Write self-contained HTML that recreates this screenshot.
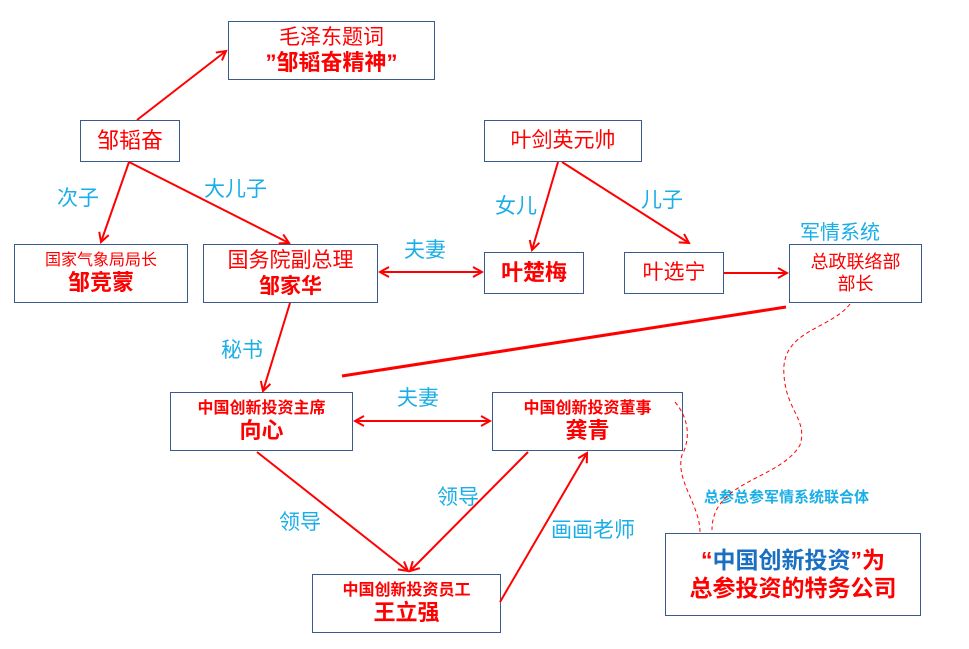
<!DOCTYPE html>
<html><head><meta charset="utf-8"><style>
body{margin:0;width:969px;height:649px;background:#fff;position:relative;overflow:hidden;font-family:"Liberation Sans","Noto Sans CJK SC",sans-serif}
.b{position:absolute;border:1.5px solid #3a5a8c;box-sizing:border-box;background:#fff;color:#f00;text-align:center;display:flex;flex-direction:column;justify-content:center;line-height:1.2}
.l{position:absolute;color:#1aaee8;font-size:21px;white-space:nowrap}
svg{position:absolute;left:0;top:0}
</style></head><body>
<div class="b" style="left:228px;top:21px;width:207px;height:59px"><div style="font-size:21px">毛泽东题词</div><div style="font-size:22px;font-weight:bold">”邹韬奋精神”</div></div>
<div class="b" style="left:80px;top:120px;width:100px;height:42px;font-size:22px">邹韬奋</div>
<div class="b" style="left:14px;top:244px;width:174px;height:59px"><div style="font-size:16px">国家气象局局长</div><div style="font-size:22px;font-weight:bold">邹竞蒙</div></div>
<div class="b" style="left:203px;top:244px;width:175px;height:59px"><div style="font-size:21px">国务院副总理</div><div style="font-size:21px;font-weight:bold">邹家华</div></div>
<div class="b" style="left:484px;top:120px;width:158px;height:42px;font-size:21px">叶剑英元帅</div>
<div class="b" style="left:484px;top:252px;width:100px;height:42px;font-size:22px;font-weight:bold">叶楚梅</div>
<div class="b" style="left:624px;top:252px;width:100px;height:42px;font-size:21px">叶选宁</div>
<div class="b" style="left:789px;top:244px;width:133px;height:59px;font-size:18px"><div>总政联络部</div><div>部长</div></div>
<div class="b" style="left:170px;top:392px;width:183px;height:59px"><div style="font-size:16px;font-weight:bold">中国创新投资主席</div><div style="font-size:22px;font-weight:bold">向心</div></div>
<div class="b" style="left:492px;top:392px;width:191px;height:59px"><div style="font-size:16px;font-weight:bold">中国创新投资董事</div><div style="font-size:22px;font-weight:bold">龚青</div></div>
<div class="b" style="left:312px;top:574px;width:189px;height:59px"><div style="font-size:16px;font-weight:bold">中国创新投资员工</div><div style="font-size:22px;font-weight:bold">王立强</div></div>
<div class="b" style="left:665px;top:533px;width:256px;height:83px;font-size:23px;font-weight:bold"><div><span style="color:#f00">“</span><span style="color:#1a6fc0">中国创新投资</span>”为</div><div>总参投资的特务公司</div></div>
<div class="l" style="left:57px;top:182px">次子</div>
<div class="l" style="left:204px;top:173px">大儿子</div>
<div class="l" style="left:404px;top:234px">夫妻</div>
<div class="l" style="left:495px;top:190px">女儿</div>
<div class="l" style="left:641px;top:184px">儿子</div>
<div class="l" style="left:800px;top:216px;font-size:20px">军情系统</div>
<div class="l" style="left:221px;top:334px">秘书</div>
<div class="l" style="left:397px;top:382px">夫妻</div>
<div class="l" style="left:279px;top:506px">领导</div>
<div class="l" style="left:437px;top:481px">领导</div>
<div class="l" style="left:551px;top:514px">画画老师</div>
<div class="l" style="left:704px;top:486px;font-size:15px;font-weight:bold">总参总参军情系统联合体</div>
<svg width="969" height="649">
<defs><marker id="a" markerWidth="12" markerHeight="12" refX="10" refY="6" orient="auto" markerUnits="userSpaceOnUse"><path d="M1,1 L10,6 L1,11" fill="none" stroke="#f00" stroke-width="2"/></marker></defs>
<g stroke="#f00" stroke-width="2" fill="none">
<line x1="137" y1="120" x2="226" y2="51" marker-end="url(#a)"/>
<line x1="129" y1="162" x2="101" y2="242" marker-end="url(#a)"/>
<line x1="129" y1="162" x2="289" y2="243" marker-end="url(#a)"/>
<line x1="380" y1="272" x2="482" y2="272" marker-end="url(#a)"/>
<line x1="482" y1="272" x2="380" y2="272" marker-end="url(#a)"/>
<line x1="558" y1="162" x2="532" y2="250" marker-end="url(#a)"/>
<line x1="562" y1="162" x2="689" y2="243" marker-end="url(#a)"/>
<line x1="724" y1="273" x2="787" y2="273" marker-end="url(#a)"/>
<line x1="786" y1="307" x2="342" y2="376" stroke-width="3"/>
<line x1="290" y1="303" x2="263" y2="391" marker-end="url(#a)"/>
<line x1="355" y1="421" x2="490" y2="421" marker-end="url(#a)"/>
<line x1="490" y1="421" x2="355" y2="421" marker-end="url(#a)"/>
<line x1="257" y1="452" x2="408" y2="571" marker-end="url(#a)"/>
<line x1="528" y1="452" x2="410" y2="571" marker-end="url(#a)"/>
<line x1="500" y1="602" x2="587" y2="453" marker-end="url(#a)"/>
</g>
<g stroke="#f00" stroke-width="1" fill="none" stroke-dasharray="4,3">
<path d="M850,304 C830,330 780,330 784,375 C786,410 808,420 800,445 C780,480 712,480 712,530"/>
<path d="M675,402 C690,420 690,440 682,455 C675,480 700,505 700,532"/>
</g>
</svg>
</body></html>
